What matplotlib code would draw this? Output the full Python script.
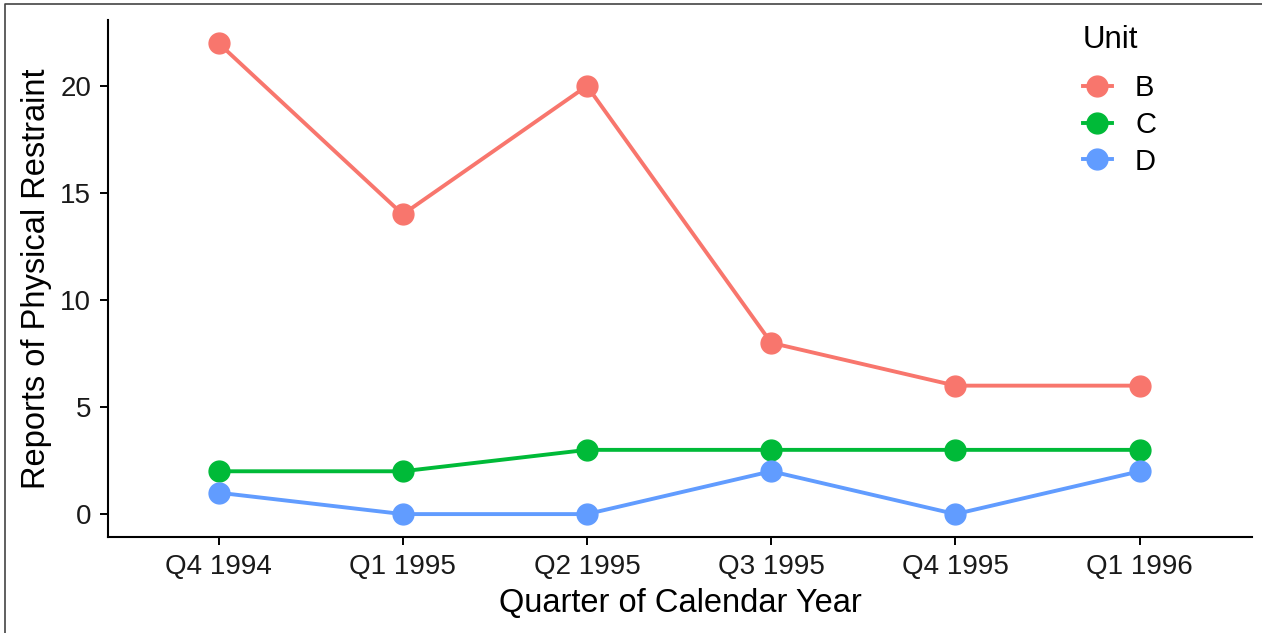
import matplotlib.pyplot as plt
from matplotlib.lines import Line2D

plt.rcParams['font.family'] = ['Liberation Sans', 'DejaVu Sans']

quarters = ["Q4 1994", "Q1 1995", "Q2 1995", "Q3 1995", "Q4 1995", "Q1 1996"]
unit_b = [22, 14, 20, 8, 6, 6]
unit_c = [2, 2, 3, 3, 3, 3]
unit_d = [1, 0, 0, 2, 0, 2]
units = ["B", "C", "D"]
colors = ["#F8766D", "#00BA38", "#619CFF"]

fig = plt.figure(figsize=(12.62, 6.33), dpi=100)
ax = fig.add_axes([108 / 1262, 1 - 537 / 633, (1252 - 108) / 1262, (537 - 20) / 633])

x = list(range(len(quarters)))
for vals, name, c in zip([unit_b, unit_c, unit_d], units, colors):
    ax.plot(x, vals, color=c, lw=2.8, marker="o", ms=15, label=name)

ax.set_xlim(-0.6, 5.61)
ax.set_ylim(-1.07, 23.08)
ax.set_xticks(x)
ax.set_xticklabels(quarters)
ax.set_yticks([0, 5, 10, 15, 20])
ax.tick_params(labelsize=20, length=6, width=1.4, color="black", labelcolor="#1a1a1a", pad=6)
for s in ["top", "right"]:
    ax.spines[s].set_visible(False)
for s in ["left", "bottom"]:
    ax.spines[s].set_linewidth(1.5)
ax.set_xlabel("Quarter of Calendar Year", fontsize=23.5, labelpad=6)
ax.set_ylabel("Reports of Physical Restraint", fontsize=23.5, labelpad=6)

leg = ax.legend(title="Unit", loc="upper left", bbox_to_anchor=(1068 / 1262, 1 - 10 / 633),
                bbox_transform=fig.transFigure, frameon=False, fontsize=21, title_fontsize=22.5,
                handlelength=1.0, handletextpad=0.8, labelspacing=0.3, borderpad=0)
leg._legend_box.align = "left"
leg._legend_box.sep = 14

# frame left over from the cropped screenshot: only left and top edges show
fig.add_artist(Line2D([5 / 1262, 5 / 1262, 1], [0, 1 - 4 / 633, 1 - 4 / 633],
                      transform=fig.transFigure, color="#444444", lw=1.2))

fig.savefig("out.png", dpi=100)
